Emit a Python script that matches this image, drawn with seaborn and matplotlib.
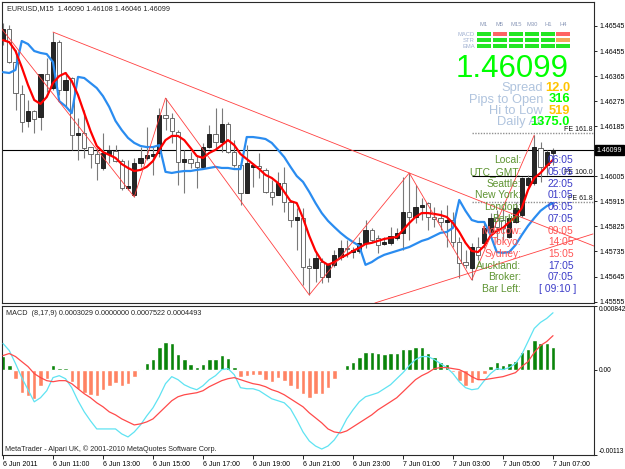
import numpy as np
import pandas as pd
import matplotlib
matplotlib.use('Agg')
import matplotlib.pyplot as plt
import seaborn as sns
from matplotlib.patches import Rectangle
from matplotlib import font_manager

# EURUSD M15, 6 Jun 2011 09:00 -> 7 Jun 2011 07:00 (89 bars)
open_px = [1.46494, 1.46534, 1.46415, 1.46300, 1.46204, 1.46240, 1.46218, 1.46372, 1.46322, 1.46487,
           1.46315, 1.46358, 1.46153, 1.46160, 1.46110, 1.46085, 1.46035, 1.46085, 1.46096, 1.46060,
           1.45963, 1.45938, 1.46053, 1.46071, 1.46078, 1.46089, 1.46225, 1.46214, 1.46164, 1.46056,
           1.46067, 1.46056, 1.46039, 1.46110, 1.46157, 1.46128, 1.46193, 1.46092, 1.46046, 1.45945,
           1.46039, 1.46042, 1.46028, 1.45949, 1.45938, 1.45981, 1.45913, 1.45848, 1.45855, 1.45683,
           1.45676, 1.45697, 1.45644, 1.45687, 1.45715, 1.45748, 1.45733, 1.45737, 1.45766, 1.45812,
           1.45784, 1.45762, 1.45766, 1.45784, 1.45802, 1.45877, 1.45859, 1.45895, 1.45909, 1.45859,
           1.45855, 1.45841, 1.45848, 1.45769, 1.45697, 1.45676, 1.45751, 1.45766, 1.45805, 1.45855,
           1.45848, 1.45787, 1.45841, 1.45866, 1.45974, 1.45981, 1.46107, 1.46046, 1.46090]
high_px = [1.46555, 1.46548, 1.46458, 1.46333, 1.46279, 1.46243, 1.46372, 1.46430, 1.46523, 1.46494,
           1.46379, 1.46362, 1.46214, 1.46243, 1.46110, 1.46107, 1.46160, 1.46117, 1.46117, 1.46067,
           1.46064, 1.46071, 1.46110, 1.46182, 1.46110, 1.46250, 1.46286, 1.46232, 1.46171, 1.46100,
           1.46092, 1.46082, 1.46125, 1.46189, 1.46250, 1.46250, 1.46200, 1.46135, 1.46053, 1.46117,
           1.46053, 1.46089, 1.46035, 1.45992, 1.46021, 1.46039, 1.45920, 1.45891, 1.45891, 1.45712,
           1.45733, 1.45712, 1.45694, 1.45741, 1.45776, 1.45776, 1.45751, 1.45787, 1.45848, 1.45820,
           1.45794, 1.45787, 1.45823, 1.45820, 1.46003, 1.46017, 1.45974, 1.45927, 1.45913, 1.45895,
           1.45884, 1.45902, 1.45877, 1.45787, 1.45741, 1.45766, 1.45787, 1.45841, 1.45873, 1.45884,
           1.45895, 1.45866, 1.45913, 1.46003, 1.46010, 1.46153, 1.46128, 1.46100, 1.46108]
low_px = [1.46476, 1.46412, 1.46243, 1.46164, 1.46182, 1.46160, 1.46171, 1.46308, 1.46315, 1.46297,
          1.46254, 1.46100, 1.46064, 1.46071, 1.46035, 1.45992, 1.46028, 1.46053, 1.46056, 1.45956,
          1.45956, 1.45931, 1.46039, 1.46064, 1.46010, 1.46074, 1.46171, 1.46125, 1.45974, 1.45945,
          1.46035, 1.45963, 1.46035, 1.46107, 1.46107, 1.46092, 1.46089, 1.46039, 1.45902, 1.45945,
          1.45967, 1.45999, 1.45945, 1.45902, 1.45938, 1.45877, 1.45823, 1.45741, 1.45615, 1.45579,
          1.45626, 1.45622, 1.45626, 1.45680, 1.45705, 1.45715, 1.45712, 1.45730, 1.45748, 1.45769,
          1.45730, 1.45758, 1.45758, 1.45776, 1.45741, 1.45776, 1.45837, 1.45848, 1.45812, 1.45823,
          1.45812, 1.45751, 1.45751, 1.45640, 1.45676, 1.45633, 1.45705, 1.45748, 1.45787, 1.45769,
          1.45776, 1.45784, 1.45837, 1.45859, 1.45967, 1.45974, 1.45985, 1.46010, 1.46046]
close_px = [1.46534, 1.46415, 1.46304, 1.46200, 1.46240, 1.46211, 1.46372, 1.46351, 1.46487, 1.46315,
            1.46351, 1.46153, 1.46160, 1.46107, 1.46085, 1.46053, 1.46089, 1.46100, 1.46060, 1.45963,
            1.45970, 1.46053, 1.46071, 1.46082, 1.46085, 1.46225, 1.46214, 1.46168, 1.46056, 1.46067,
            1.46053, 1.46039, 1.46110, 1.46157, 1.46128, 1.46193, 1.46092, 1.46046, 1.45945, 1.46053,
            1.46046, 1.46035, 1.45949, 1.45931, 1.45981, 1.45913, 1.45848, 1.45859, 1.45680, 1.45676,
            1.45712, 1.45644, 1.45687, 1.45723, 1.45748, 1.45744, 1.45741, 1.45766, 1.45812, 1.45776,
            1.45758, 1.45769, 1.45791, 1.45802, 1.45877, 1.45859, 1.45895, 1.45902, 1.45859, 1.45852,
            1.45841, 1.45848, 1.45769, 1.45694, 1.45687, 1.45751, 1.45723, 1.45820, 1.45855, 1.45823,
            1.45820, 1.45855, 1.45891, 1.45999, 1.45999, 1.46110, 1.46039, 1.46092, 1.46099]

# moving averages on the price chart
ma_red = [1.46494, 1.46487, 1.46455, 1.46397, 1.46333, 1.46279, 1.46265, 1.46290, 1.46340, 1.46365,
          1.46376, 1.46347, 1.46297, 1.46232, 1.46168, 1.46114, 1.46092, 1.46082, 1.46071, 1.46049,
          1.46035, 1.46024, 1.46028, 1.46039, 1.46060, 1.46100, 1.46135, 1.46150, 1.46150, 1.46135,
          1.46107, 1.46078, 1.46071, 1.46089, 1.46100, 1.46117, 1.46135, 1.46117, 1.46085, 1.46067,
          1.46049, 1.46031, 1.46010, 1.45999, 1.45981, 1.45949, 1.45916, 1.45909, 1.45855, 1.45791,
          1.45737, 1.45701, 1.45687, 1.45697, 1.45712, 1.45723, 1.45737, 1.45748, 1.45762, 1.45766,
          1.45773, 1.45780, 1.45784, 1.45787, 1.45812, 1.45837, 1.45859, 1.45873, 1.45873, 1.45870,
          1.45866, 1.45859, 1.45837, 1.45805, 1.45766, 1.45737, 1.45733, 1.45755, 1.45791, 1.45809,
          1.45820, 1.45841, 1.45859, 1.45891, 1.45956, 1.45999, 1.46017, 1.46042, 1.46064]
ma_blue = [1.46379, 1.46376, 1.46387, 1.46491, 1.46480, 1.46455, 1.46448, 1.46444, 1.46415, 1.46275,
           1.46257, 1.46232, 1.46362, 1.46358, 1.46340, 1.46322, 1.46293, 1.46254, 1.46204, 1.46171,
           1.46143, 1.46125, 1.46114, 1.46110, 1.46110, 1.46117, 1.46021, 1.46017, 1.46021, 1.46024,
           1.46024, 1.46028, 1.46031, 1.46035, 1.46039, 1.46035, 1.46035, 1.46031, 1.46031, 1.46146,
           1.46146, 1.46143, 1.46139, 1.46125, 1.46100, 1.46074, 1.46039, 1.46006, 1.45985, 1.45949,
           1.45909, 1.45873, 1.45845, 1.45823, 1.45802, 1.45784, 1.45769, 1.45755, 1.45687, 1.45697,
           1.45712, 1.45723, 1.45730, 1.45737, 1.45744, 1.45751, 1.45762, 1.45773, 1.45780, 1.45791,
           1.45802, 1.45805, 1.45820, 1.45920, 1.45881, 1.45848, 1.45841, 1.45841, 1.45794, 1.45733,
           1.45730, 1.45733, 1.45758, 1.45794, 1.45827, 1.45855, 1.45881, 1.45898, 1.45909]

# MACD (8,17,9)
macd_hist = [0.000186, 0.000067, -0.000120, -0.000306, -0.000346, -0.000386, -0.000213, -0.000120, 0.000067, 0.000020,
             0.000020, -0.000160, -0.000253, -0.000306, -0.000333, -0.000346, -0.000266, -0.000213, -0.000173, -0.000213,
             -0.000186, -0.000093, 0.000009, 0.000093, 0.000146, 0.000293, 0.000372, 0.000346, 0.000213, 0.000146,
             0.000080, 0.000040, 0.000080, 0.000146, 0.000146, 0.000200, 0.000160, 0.000040, -0.000093, -0.000080,
             -0.000067, -0.000067, -0.000133, -0.000160, -0.000106, -0.000146, -0.000213, -0.000253, -0.000319, -0.000372,
             -0.000319, -0.000319, -0.000239, -0.000120, -0.000013, 0.000067, 0.000106, 0.000173, 0.000239, 0.000239,
             0.000226, 0.000213, 0.000226, 0.000226, 0.000279, 0.000279, 0.000293, 0.000293, 0.000226, 0.000173,
             0.000106, 0.000080, -0.000027, -0.000146, -0.000213, -0.000173, -0.000133, -0.000053, 0.000053, 0.000106,
             0.000067, 0.000093, 0.000120, 0.000239, 0.000279, 0.000386, 0.000346, 0.000346, 0.0003029]
macd_main = [0.000346, 0.000253, 0.000080, -0.000106, -0.000266, -0.000426, -0.000372, -0.000279, -0.000106, -0.000080,
             -0.000120, -0.000239, -0.000412, -0.000559, -0.000678, -0.000785, -0.000785, -0.000785, -0.000785, -0.000851,
             -0.000891, -0.000825, -0.000732, -0.000612, -0.000505, -0.000359, -0.000186, -0.000093, -0.000133, -0.000200,
             -0.000239, -0.000266, -0.000213, -0.000133, -0.000080, 0.000000, 0.000013, -0.000067, -0.000239, -0.000253,
             -0.000253, -0.000279, -0.000333, -0.000386, -0.000412, -0.000439, -0.000519, -0.000665, -0.000825, -0.000944,
             -0.001011, -0.001051, -0.001011, -0.000931, -0.000811, -0.000652, -0.000532, -0.000426, -0.000359, -0.000333,
             -0.000306, -0.000253, -0.000200, -0.000120, -0.000040, 0.000053, 0.000133, 0.000173, 0.000173, 0.000133,
             0.000080, 0.000027, -0.000053, -0.000160, -0.000239, -0.000266, -0.000253, -0.000146, -0.000053, 0.000013,
             0.000000, 0.000027, 0.000080, 0.000200, 0.000372, 0.000545, 0.000625, 0.000678, 0.0007522]
macd_signal = [0.000186, 0.000213, 0.000173, 0.000106, 0.000040, -0.000053, -0.000106, -0.000146, -0.000160, -0.000146,
               -0.000146, -0.000186, -0.000253, -0.000319, -0.000372, -0.000439, -0.000492, -0.000559, -0.000599, -0.000652,
               -0.000692, -0.000732, -0.000718, -0.000692, -0.000652, -0.000572, -0.000492, -0.000412, -0.000359, -0.000333,
               -0.000319, -0.000306, -0.000279, -0.000226, -0.000186, -0.000146, -0.000120, -0.000106, -0.000133, -0.000160,
               -0.000186, -0.000200, -0.000226, -0.000266, -0.000293, -0.000333, -0.000386, -0.000439, -0.000492, -0.000572,
               -0.000638, -0.000705, -0.000785, -0.000825, -0.000838, -0.000811, -0.000758, -0.000705, -0.000652, -0.000599,
               -0.000532, -0.000479, -0.000426, -0.000372, -0.000293, -0.000213, -0.000133, -0.000080, -0.000040, 0.000013,
               0.000027, 0.000027, 0.000013, 0.000000, -0.000040, -0.000093, -0.000133, -0.000133, -0.000120, -0.000106,
               -0.000093, -0.000067, -0.000040, 0.000040, 0.000106, 0.000226, 0.000319, 0.000372, 0.0004493]

# zigzag turning points (bar, price) and trend lines
zz_bar = [-0.4, 21, 26, 49, 65, 75, 85]
zz_price = [1.46540, 1.45931, 1.46286, 1.45579, 1.46017, 1.45633, 1.46153]
upper_bar = [8, 65]
upper_price = [1.46523, 1.46017]
lower_bar = [59.5, 94.4]
lower_price = [1.45550, 1.45798]

# fibo expansion levels
fe_names = ['FE 161.8', 'FE 100.0', 'FE 61.8']
fe_levels = [1.46160, 1.46006, 1.45913]
fe_start = 75

last_price = 1.46099
price_ticks = [1.46545, 1.46455, 1.46365, 1.46275, 1.46185, 1.46005,
               1.45915, 1.45825, 1.45735, 1.45645, 1.45555]
time_labels = ['6 Jun 2011', '6 Jun 11:00', '6 Jun 13:00', '6 Jun 15:00', '6 Jun 17:00',
               '6 Jun 19:00', '6 Jun 21:00', '6 Jun 23:00', '7 Jun 01:00', '7 Jun 03:00',
               '7 Jun 05:00', '7 Jun 07:00']
macd_ticks = [0.000842, 0.0, -0.00113]
macd_tick_labels = ['0.000842', '0.00', '-0.00113']

# dashboard
tf_names = ['M1', 'M5', 'M15', 'M30', 'H1', 'H4']
row_names = ['MACD', 'STR', 'EMA']
row_states = [['up', 'down', 'up', 'up', 'up', 'down'],
              ['up', 'up', 'up', 'up', 'up', 'mixed'],
              ['up', 'up', 'up', 'up', 'up', 'up']]
stat_names = ['Spread', 'Pips to Open', 'Hi to Low', 'Daily Av']
stat_values = ['12.0', '316', '519', '1375.0']
stat_colors = ['#ffc400', '#00ff00', '#ffc400', '#00ff00']
city_names = ['Local:', 'UTC_GMT:', 'Seattle:', 'New York:', 'London:', 'Berlin:',
              'Moscow:', 'Tokyo:', 'Sydney:', 'Auckland:', 'Broker:', 'Bar Left:']
city_times = ['06:05', '05:05', '22:05', '01:05', '06:05', '07:05',
              '09:05', '14:05', '15:05', '17:05', '07:05', '[ 09:10 ]']
city_red = [False] * 6 + [True] * 3 + [False] * 3

sns.set_theme(style='white')
plt.rcParams['font.family'] = ['Liberation Sans', 'DejaVu Sans']

W, H = 625, 469
fig = plt.figure(figsize=(W / 100, H / 100), dpi=100, facecolor='white')


def fx(x):
    return x / W


def fy(y):
    return 1 - y / H


ax = fig.add_axes([fx(2), fy(303), 592 / W, 301 / H])
ax2 = fig.add_axes([fx(2), fy(455), 592 / W, 149 / H])
XMIN, XMAX = -0.16, 94.56

df = pd.DataFrame({'open': open_px, 'high': high_px, 'low': low_px, 'close': close_px})
df['bar'] = np.arange(len(df))
bull = (df['close'] >= df['open']).values

# candles
ax.vlines(df['bar'], df['low'], df['high'], color='#7a7a7a', lw=0.8, zorder=2)
body = (df['close'] - df['open']).abs().clip(lower=0.000015)
ax.bar(df['bar'], body, bottom=df[['open', 'close']].min(axis=1), width=0.7,
       color=['#262626' if b else 'white' for b in bull],
       edgecolor=['#111111' if b else '#555555' for b in bull], lw=0.6, zorder=3)

sns.lineplot(x=df['bar'], y=ma_blue, ax=ax, color='#2a8cf0', lw=1.6, zorder=4, legend=False)
sns.lineplot(x=df['bar'], y=ma_red, ax=ax, color='#ff0000', lw=1.6, zorder=4, legend=False)

ax.plot(zz_bar, zz_price, color='#ff4040', lw=0.6, zorder=5)
slope = (upper_price[1] - upper_price[0]) / (upper_bar[1] - upper_bar[0])
ax.plot([upper_bar[0], XMAX], [upper_price[0], upper_price[0] + slope * (XMAX - upper_bar[0])],
        color='#ff4040', lw=0.6, zorder=5)
ax.plot(lower_bar, lower_price, color='#ff4040', lw=0.6, zorder=5)

ax.axhline(last_price, color='black', lw=0.8, zorder=1)
for name, lvl in zip(fe_names, fe_levels):
    if name == 'FE 100.0':
        ax.hlines(lvl, fe_start, XMAX, color='black', lw=0.8, zorder=1)
    else:
        ax.hlines(lvl, fe_start, XMAX, color='#909090', lw=1.0, linestyles=(0, (1, 1)), zorder=1)
    ax.text(XMAX - 0.2, lvl + 0.00001, name, ha='right', va='bottom', fontsize=5, color='#111111', zorder=6)

ax.set_xlim(XMIN, XMAX)
ax.set_ylim(1.45550, 1.46631)
ax.set_xticks([])
ax.yaxis.tick_right()
ax.set_yticks(price_ticks)
ax.set_yticklabels([f'{p:.5f}' for p in price_ticks])
ax.tick_params(axis='y', labelsize=5, length=2.5, pad=1.5, width=0.6, colors='black')
ax.text(1.004, last_price, f'{last_price:.5f}', transform=ax.get_yaxis_transform(),
        ha='left', va='center', fontsize=5, color='white',
        bbox=dict(boxstyle='square,pad=0.25', fc='black', ec='black'))

# MACD panel
ax2.bar(df['bar'], macd_hist, width=0.72,
        color=['#0a850a' if v >= 0 else '#ff8363' for v in macd_hist], zorder=2)
sns.lineplot(x=df['bar'], y=macd_main, ax=ax2, color='#5fe3f2', lw=0.9, zorder=3, legend=False)
sns.lineplot(x=df['bar'], y=macd_signal, ax=ax2, color='#ff4a4a', lw=0.9, zorder=3, legend=False)
ax2.set_xlim(XMIN, XMAX)
ax2.set_ylim(-0.00113, 0.000842)
ax2.yaxis.tick_right()
ax2.set_yticks(macd_ticks)
ax2.set_yticklabels(macd_tick_labels)
ax2.tick_params(axis='y', labelsize=4.8, length=2.5, pad=1.2, width=0.6, colors='black')
ylabels = ax2.get_yticklabels()
ylabels[0].set_va('top')
ylabels[2].set_va('bottom')
ax2.set_xticks(np.arange(0, len(df), 8))
ax2.set_xticklabels(time_labels, ha='left', fontsize=5)
ax2.tick_params(axis='x', bottom=True, length=3, pad=1.5, width=0.6, colors='black')
ax2.set_xlabel('')
ax2.set_ylabel('')
ax.set_xlabel('')
ax.set_ylabel('')

for a in (ax, ax2):
    for s in a.spines.values():
        s.set_color('#2a2a2a')
        s.set_linewidth(0.8)

# header texts
fig.text(fx(7), fy(8.5), 'EURUSD,M15  1.46090 1.46108 1.46046 1.46099', fontsize=5.2, va='center')
fig.text(fx(6), fy(313), 'MACD  (8,17,9) 0.0003029 0.0000000 0.0007522 0.0004493', fontsize=5.2, va='center')
fig.text(fx(5), fy(449), 'MetaTrader - Alpari UK, \u00a9 2001-2010 MetaQuotes Software Corp.',
         fontsize=5.2, va='center')

# dashboard grid
col_x = [477, 493, 509, 525, 541, 556]
row_y = [32, 38, 44]
state_color = {'up': '#22e622', 'down': '#ff6464', 'mixed': '#f2a85a'}
for cx, tf in zip(col_x, tf_names):
    fig.text(fx(cx + 7), fy(25), tf, fontsize=4.2, color='#8a98b8', ha='center', va='center')
for ry, rname, states in zip(row_y, row_names, row_states):
    fig.text(fx(475), fy(ry + 2), rname, fontsize=4.2, color='#a2b2d2', ha='right', va='center')
    for cx, st in zip(col_x, states):
        fig.add_artist(Rectangle((fx(cx), fy(ry + 4.2)), 14 / W, 4.2 / H, transform=fig.transFigure,
                                 fc=state_color[st], ec='none'))
        fig.add_artist(Rectangle((fx(cx), fy(ry + 2.3)), 14 / W, 0.5 / H, transform=fig.transFigure,
                                 fc='white', ec='none', alpha=0.7))

try:
    font_manager.findfont(font_manager.FontProperties(family='Liberation Sans Narrow'),
                          fallback_to_default=False)
    big = dict(family='Liberation Sans Narrow', fontsize=27)
except Exception:
    big = dict(fontsize=22.5)
fig.text(fx(569), fy(69), f'{last_price:.5f}', color='#00ff00', ha='right', va='center', **big)

stat_y = [88, 99.5, 111, 122]
for sy, sname, sval, scol in zip(stat_y, stat_names, stat_values, stat_colors):
    fig.text(fx(543), fy(sy), sname, fontsize=9.3, color='#b0c4de', ha='right', va='center')
    fig.text(fx(570), fy(sy), sval, fontsize=9.3, color=scol, ha='right', va='center', fontweight='bold')

for k, (cname, ctime, red) in enumerate(zip(city_names, city_times, city_red)):
    yy = 160 + k * 11.75
    fig.text(fx(521), fy(yy), cname, fontsize=7.4, ha='right', va='center',
             color='#ff5555' if red else '#5e9432')
    tx = 539 if ctime.startswith('[') else 548
    fig.text(fx(tx), fy(yy), ctime, fontsize=7.4, ha='left', va='center',
             color='#ff5555' if red else '#3c3cc8')

fig.savefig('out.png', dpi=100, facecolor='white')
